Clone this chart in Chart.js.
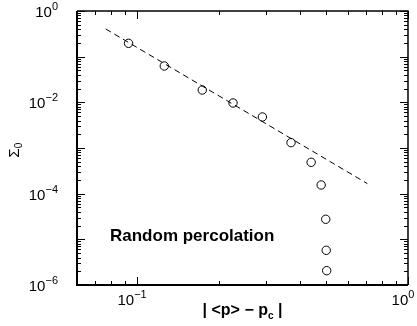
<!DOCTYPE html>
<html>
<head>
<meta charset="utf-8">
<script src="https://cdnjs.cloudflare.com/ajax/libs/Chart.js/4.4.1/chart.umd.min.js"></script>
<style>
  html, body { margin:0; padding:0; background:#fff; }
  #wrap { width:417px; height:326px; position:relative; }
</style>
</head>
<body>
<div id="wrap"><canvas id="chart"></canvas></div>
<script>
// Sigma_0 vs |<p> - p_c| for random percolation, log-log.
const DELTA_P = [0.093, 0.126, 0.174, 0.226, 0.290, 0.370, 0.439, 0.478, 0.497, 0.499, 0.501];
const SIGMA_0 = [0.196, 0.0625, 0.0186, 0.00968, 0.00478, 0.00131, 4.86e-4, 1.55e-4, 2.75e-5, 5.75e-6, 2.06e-6];

// power-law fit, endpoints of the dashed line
const FIT_X = [0.0766, 0.708];
const FIT_Y = [0.404, 1.66e-4];

// axis ranges and labelled decades
const X_RANGE = [0.06, 1];
const Y_RANGE = [1e-6, 1];
const X_LABEL_EXP = [-1, 0];
const Y_LABEL_EXP = [0, -2, -4, -6];

const FONT = '"Liberation Sans", Arial, Helvetica, sans-serif';

// every 1..9 x 10^k inside [lo, hi]; major = the decade itself
function logTicks(lo, hi){
  const out = [];
  for(let k = Math.floor(Math.log10(lo)); k <= Math.ceil(Math.log10(hi)); k++){
    for(let m = 1; m <= 9; m++){
      const v = m * Math.pow(10, k);
      if(v >= lo*0.999 && v <= hi*1.001) out.push({v, major: m === 1});
    }
  }
  return out;
}

// "10" with a raised exponent; align: 'right' or 'center'
function powLabel(ctx, exp, x, y, align){
  const base = '10', sup = exp === 0 ? '0' : '\u2212' + Math.abs(exp);
  ctx.font = '15px ' + FONT;
  const wb = ctx.measureText(base).width;
  ctx.font = '11px ' + FONT;
  const ws = ctx.measureText(sup).width;
  const w = wb + ws;
  const x0 = align === 'right' ? x - w : x - w/2;
  ctx.textAlign = 'left'; ctx.textBaseline = 'alphabetic';
  ctx.font = '15px ' + FONT;
  ctx.fillText(base, x0, y);
  ctx.font = '11px ' + FONT;
  ctx.fillText(sup, x0 + wb, y - 7);
}

const framePlugin = {
  id: 'frame',
  afterDraw(chart){
    const {ctx, chartArea: a, scales: {x, y}} = chart;
    ctx.save();
    ctx.strokeStyle = '#000'; ctx.fillStyle = '#000';

    // inward ticks on all four sides
    ctx.lineWidth = 1;
    ctx.beginPath();
    for(const t of logTicks(X_RANGE[0], X_RANGE[1])){
      const px = Math.round(x.getPixelForValue(t.v)) + 0.5, len = t.major ? 8 : 4;
      ctx.moveTo(px, a.bottom); ctx.lineTo(px, a.bottom - len);
      ctx.moveTo(px, a.top); ctx.lineTo(px, a.top + len);
    }
    for(const t of logTicks(Y_RANGE[0], Y_RANGE[1])){
      const py = Math.round(y.getPixelForValue(t.v)) + 0.5, len = t.major ? 8 : 4;
      ctx.moveTo(a.left, py); ctx.lineTo(a.left + len, py);
      ctx.moveTo(a.right, py); ctx.lineTo(a.right - len, py);
    }
    ctx.stroke();

    // frame
    ctx.lineWidth = 2;
    ctx.beginPath();
    ctx.moveTo(a.left, a.top); ctx.lineTo(a.left, a.bottom); ctx.lineTo(a.right, a.bottom);
    ctx.stroke();
    ctx.lineWidth = 1.5;
    ctx.beginPath();
    ctx.moveTo(a.left, a.top); ctx.lineTo(a.right, a.top); ctx.lineTo(a.right, a.bottom);
    ctx.stroke();

    // tick labels
    for(const e of Y_LABEL_EXP) powLabel(ctx, e, a.left - 19, y.getPixelForValue(Math.pow(10, e)) + 6, 'right');
    for(const e of X_LABEL_EXP) powLabel(ctx, e, x.getPixelForValue(Math.pow(10, e)) - 5, a.bottom + 20, 'center');

    // x title: | <p> − p_c |
    ctx.textAlign = 'left'; ctx.textBaseline = 'alphabetic';
    const parts = [['| <p> \u2212 p', 'bold 16px', 0], ['c', 'bold 10px', 4], [' |', 'bold 16px', 0]];
    let tw = 0;
    for(const p of parts){ ctx.font = p[1] + ' ' + FONT; tw += ctx.measureText(p[0]).width; }
    let cx = (a.left + a.right)/2 - tw/2;
    for(const p of parts){
      ctx.font = p[1] + ' ' + FONT;
      ctx.fillText(p[0], cx, a.bottom + 30 + p[2]);
      cx += ctx.measureText(p[0]).width;
    }

    // y title: Σ_0, rotated
    ctx.save();
    ctx.translate(19, 150);
    ctx.rotate(-Math.PI/2);
    ctx.font = '15px ' + FONT;
    const ws = ctx.measureText('\u03A3').width;
    ctx.fillText('\u03A3', -ws/2 - 3, 0);
    ctx.font = '10px ' + FONT;
    ctx.fillText('0', ws/2 - 3, 3);
    ctx.restore();

    // annotation
    ctx.font = 'bold 17px ' + FONT;
    ctx.fillText('Random percolation', 110, 241);

    ctx.restore();
  }
};

new Chart(document.getElementById('chart'), {
  type: 'scatter',
  data: {
    datasets: [
      {
        label: 'fit',
        data: FIT_X.map((v, i) => ({x: v, y: FIT_Y[i]})),
        showLine: true, borderColor: '#000', borderWidth: 1, borderDash: [6, 4],
        pointRadius: 0, fill: false,
      },
      {
        label: 'Sigma_0',
        data: DELTA_P.map((v, i) => ({x: v, y: SIGMA_0[i]})),
        showLine: false, pointStyle: 'circle', pointRadius: 4.2,
        borderColor: '#000', borderWidth: 1, backgroundColor: 'rgba(255,255,255,0)',
      },
    ],
  },
  options: {
    responsive: true, maintainAspectRatio: false, animation: false,
    layout: {padding: {left: 77, top: 11, right: 9, bottom: 41}},
    plugins: {legend: {display: false}, tooltip: {enabled: false}},
    scales: {
      x: {type: 'logarithmic', min: X_RANGE[0], max: X_RANGE[1], display: false},
      y: {type: 'logarithmic', min: Y_RANGE[0], max: Y_RANGE[1], display: false},
    },
  },
  plugins: [framePlugin],
});
</script>
</body>
</html>
